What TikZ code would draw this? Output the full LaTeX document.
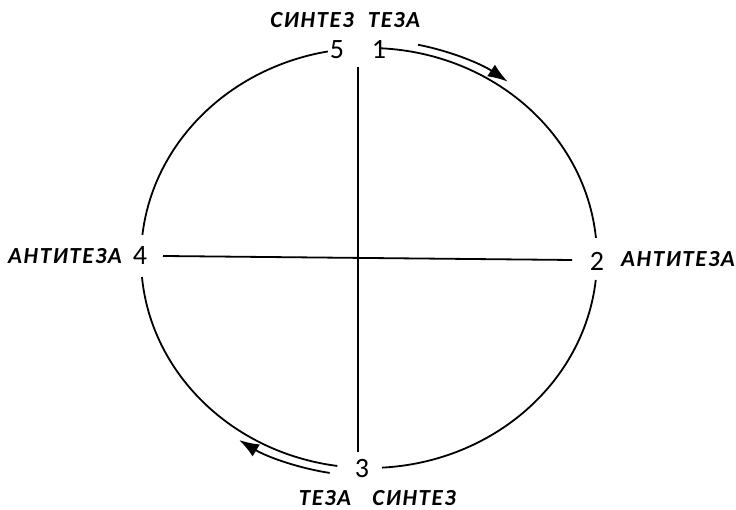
\documentclass[tikz,border=0pt]{standalone}
\usepackage{fontspec}
\setmainfont{Carlito}
\usetikzlibrary{arrows.meta}
\tikzset{
 numlabel/.style={font=\fontsize{28}{28}\selectfont, inner sep=0pt},
 stagelabel/.style={font=\fontsize{23}{23}\selectfont\bfseries\itshape\addfontfeature{LetterSpace=7}, inner sep=0pt},
 cycleline/.style={line width=1.8pt},
 cyclearrow/.style={cycleline, -{Latex[length=20pt,width=14pt]}},
}
\begin{document}
\begin{tikzpicture}[x=1pt,y=1pt]
 \useasboundingbox (0,0) rectangle (736,510);
 \coordinate (C) at (369,252); % центр эллипса
 \coordinate (VT) at (358,443); % верх вертикали
 \coordinate (VB) at (358,58); % низ вертикали
 \coordinate (HL) at (163,254); % лево горизонтали
 \coordinate (HR) at (572,250); % право горизонтали

 \draw[cycleline] (VT) -- (VB); % вертикаль
 \draw[cycleline] (HL) -- (HR); % горизонталь

% \draw[cycleline] (C) ellipse (228 and 210);
 \draw[cycleline] (C) ++(87:228 and 210) arc[start angle=87, end angle=5.5, x radius=228, y radius=210]; % 1 -> 2
 \draw[cycleline] (C) ++(-6:228 and 210) arc[start angle=-6, end angle=-86.7, x radius=228, y radius=210]; % 2 -> 3
 \draw[cycleline] (C) ++(262:228 and 210) arc[start angle=262, end angle=185.2, x radius=228, y radius=210]; % 3 -> 4
 \draw[cycleline] (C) ++(173.7:228 and 210) arc[start angle=173.7, end angle=100.4, x radius=228, y radius=210]; % 4 -> 5

 \draw[cyclearrow] (C) ++(78:236 and 218) arc[start angle=78, end angle=54, x radius=236, y radius=218]; % стрелка сверху
 \draw[cyclearrow] (C) ++(260.4:236 and 218) arc[start angle=260.4, end angle=236.6, x radius=236, y radius=218]; % стрелка снизу

 \node[numlabel] (n5) at (337,460) {5}; % число
 \node[numlabel] (n1) at (379,460) {1}; % число
 \node[numlabel] (n2) at (597,249) {2}; % число
 \node[numlabel] (n3) at (362,41) {3}; % число
 \node[numlabel] (n4) at (140,254) {4}; % число

 \node[stagelabel] (s5) at (312,490) {СИНТЕЗ}; % надпись
 \node[stagelabel] (t1) at (394,490) {ТЕЗА}; % надпись
 \node[stagelabel] (a2) at (678,251) {АНТИТЕЗА}; % надпись
 \node[stagelabel] (t3) at (325,12) {ТЕЗА}; % надпись
 \node[stagelabel] (s3) at (414,12) {СИНТЕЗ}; % надпись
 \node[stagelabel] (a4) at (65,254) {АНТИТЕЗА}; % надпись
\end{tikzpicture}
\end{document}
